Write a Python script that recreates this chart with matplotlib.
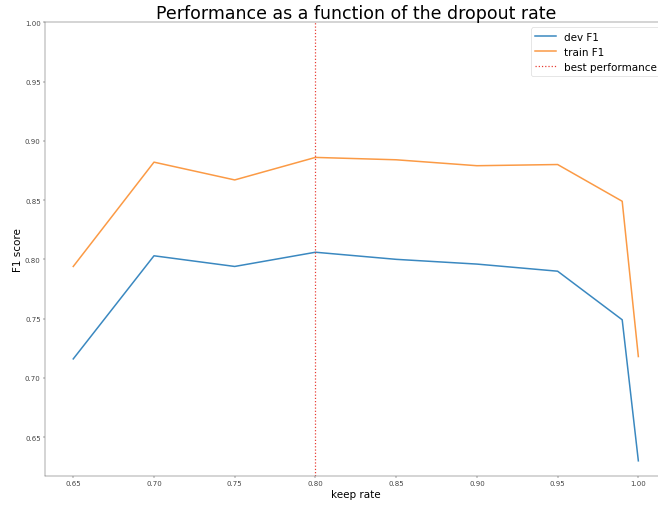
import matplotlib
matplotlib.use("Agg")
import matplotlib.pyplot as plt

keep_rate = [0.65, 0.70, 0.75, 0.80, 0.85, 0.90, 0.95, 0.99, 1.00]
dev_f1 = [0.716, 0.803, 0.794, 0.806, 0.800, 0.796, 0.790, 0.749, 0.630]
train_f1 = [0.794, 0.882, 0.867, 0.886, 0.884, 0.879, 0.880, 0.849, 0.718]
best_keep_rate = 0.80

W, H = 658, 508
dpi = W / 15.0
fig = plt.figure(figsize=(15, H / dpi), dpi=dpi)
ax = fig.add_axes([45 / W, 31 / H, (666.6 - 45) / W, (477 - 23.3) / H])

ax.plot(keep_rate, dev_f1, label="dev F1", linewidth=2.5, color="#3a88c0")
ax.plot(keep_rate, train_f1, label="train F1", linewidth=2.5, color="#fb9a45")
ax.axvline(best_keep_rate, color="#e8392f", linestyle=":", linewidth=2,
           label="best performance")
ax.set_ylim(top=1.0)

ax.set_title("Performance as a function of the dropout rate", fontsize=28.5)
ax.set_xlabel("keep rate", fontsize=17)
ax.set_ylabel("F1 score", fontsize=17)
ax.tick_params(labelsize=11.5, colors="#444444")
for s in ax.spines.values():
    s.set_color("#555555")
ax.legend(loc="upper right", fontsize=17)

fig.savefig("out.png", dpi=dpi)
